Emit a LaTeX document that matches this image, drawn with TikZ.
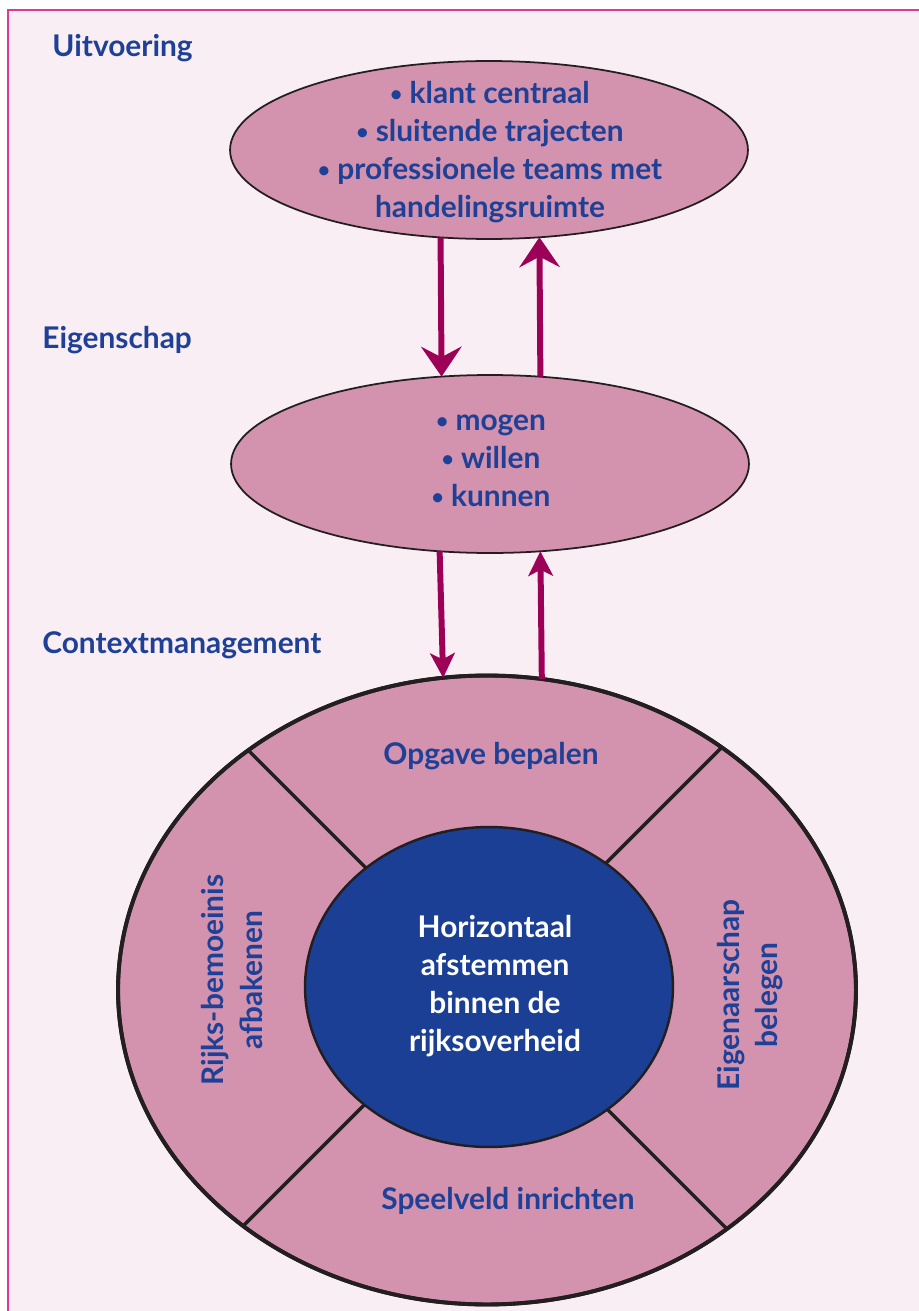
\documentclass[tikz,border=0pt]{standalone}
\usepackage{fontspec}
\setmainfont{Lato}
\usetikzlibrary{arrows.meta,shapes.geometric}
\definecolor{bgpink}{HTML}{F9EEF3}
\definecolor{framepink}{HTML}{E03A8E}
\definecolor{ellpink}{HTML}{D392AD}
\definecolor{txtblue}{HTML}{1E4096}
\definecolor{innerblue}{HTML}{1B3F95}
\definecolor{arrowmag}{HTML}{9C0057}
\definecolor{outline}{HTML}{231F20}
\newcommand\mybul{{\fontsize{12}{12}\selectfont\raisebox{1.2pt}{•}}}
\tikzset{
  lbl/.style={font=\fontsize{17}{21.7}\selectfont\bfseries, text=txtblue, align=center, inner sep=0pt},
  hdr/.style={lbl, anchor=west},
  ell/.style={ellipse, draw=outline, fill=ellpink, inner sep=0pt, outer sep=0pt, line width=1pt},
  flow/.style={draw=arrowmag, line width=3.4pt},
  bighead/.style={-{Stealth[length=17pt,width=23pt,inset=6pt]}},
  smallhead/.style={-{Stealth[length=14pt,width=14pt,inset=3.5pt]}},
  divider/.style={draw=outline, line width=2pt},
}
\begin{document}
\begin{tikzpicture}[x=0.02cm,y=-0.02cm]
\useasboundingbox (0,0) rectangle (919,1311);
\fill[white] (0,0) rectangle (919,1311);
\fill[bgpink] (8,10) rectangle (919,1311);
\draw[framepink, line width=1.2pt] (8,1311) -- (8,10) -- (919,10);

% headers
\node[hdr] (h1) at (52,48) {Uitvoering};
\node[hdr] (h2) at (42,340) {Eigenschap};
\node[hdr] (h3) at (42,645) {Contextmanagement};

% top and middle ellipses
\node[ell, minimum width=10.36cm, minimum height=3.56cm] (e1) at (489,150) {};
\node[ell, minimum width=10.36cm, minimum height=3.56cm] (e2) at (490,464) {};
\node[lbl] (t1) at (490,152) {\mybul{} klant centraal\\\mybul{} sluitende trajecten\\\mybul{} professionele teams met\\handelingsruimte};
\node[lbl] (t2) at (491,461) {\mybul{} mogen\\\mybul{} willen\\\mybul{} kunnen};

% big ellipse
\node[ell, line width=2.2pt, minimum width=14.76cm, minimum height=12.58cm] (e3) at (487,990) {};
\begin{scope}
  \clip (487,990) ellipse [x radius=369, y radius=314.5];
  \draw[divider] (150,652) -- (850,1352);
  \draw[divider] (850,619) -- (150,1319);
\end{scope}
\node[ell, fill=innerblue, line width=1.4pt, minimum width=7.36cm, minimum height=6.4cm] (e4) at (489,987) {};
\draw[outline, line width=2.2pt] (487,990) ellipse [x radius=369, y radius=314.5];

\node[lbl] (q1) at (491,756) {Opgave bepalen};
\node[lbl] (q2) at (508,1201) {Speelveld inrichten};
\node[lbl, rotate=90] (q3) at (232,980) {Rijks-bemoeinis\\afbakenen};
\node[lbl, rotate=90] (q4) at (750,995) {Eigenaarschap\\belegen};
\node[lbl, text=white] (c) at (495,986) {Horizontaal\\afstemmen\\binnen de\\rijksoverheid};

% arrows
\draw[flow, bighead] (e1.241.24) -- (e2.119.28);
\draw[flow, bighead] (e2.60.72) -- (e1.-60.2);
\draw[flow, smallhead] (e2.240.72) -- (e3.98.39);
\draw[flow, smallhead] (e3.80.52) -- (e2.-60.72);
\end{tikzpicture}
\end{document}
